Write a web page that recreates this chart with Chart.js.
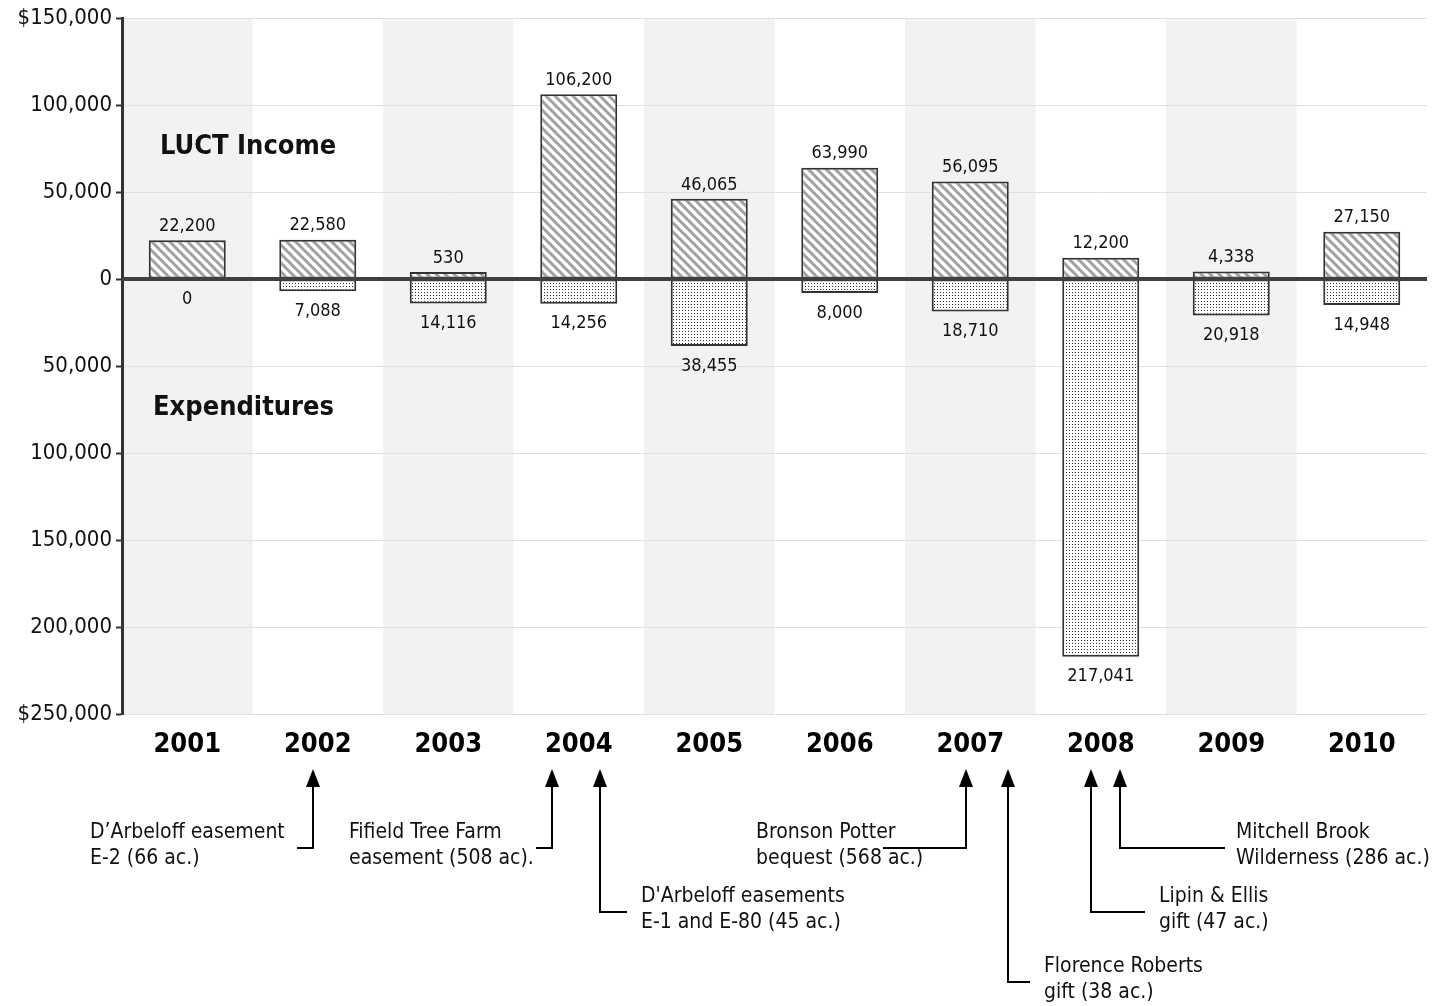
<!DOCTYPE html>
<html>
<head>
<meta charset="utf-8">
<script src="https://cdn.jsdelivr.net/npm/chart.js@4.4.1/dist/chart.umd.min.js"></script>
<style>
  html, body { margin: 0; padding: 0; background: #fff; }
  #wrap { width: 1446px; height: 1006px; position: relative; }
</style>
</head>
<body>
<div id="wrap"><canvas id="chart"></canvas></div>
<script>
const FONT = '"DejaVu Sans Condensed", "DejaVu Sans", sans-serif';

// chart values
const years = ['2001', '2002', '2003', '2004', '2005', '2006', '2007', '2008', '2009', '2010'];
const income = [22200, 22580, 530, 106200, 46065, 63990, 56095, 12200, 4338, 27150];
const expenditures = [0, -7088, -14116, -14256, -38455, -8000, -18710, -217041, -20918, -14948];

const yTickValues = [150000, 100000, 50000, 0, -50000, -100000, -150000, -200000, -250000];
const yTickLabels = ['$150,000', '100,000', '50,000', '0', '50,000', '100,000', '150,000', '200,000', '$250,000'];

// land acquisitions marked under the axis
const noteYears = ['2002', '2004', '2004', '2007', '2007', '2008', '2008'];
const noteText = [
  ['D\u2019Arbeloff easement', 'E-2 (66 ac.)'],
  ['Fifield Tree Farm', 'easement (508 ac).'],
  ["D'Arbeloff easements", 'E-1 and E-80 (45 ac.)'],
  ['Bronson Potter', 'bequest (568 ac.)'],
  ['Florence Roberts', 'gift (38 ac.)'],
  ['Lipin & Ellis', 'gift (47 ac.)'],
  ['Mitchell Brook', 'Wilderness (286 ac.)']
];

const canvas = document.getElementById('chart');
const ctx = canvas.getContext('2d');

function makeHatch() {
  const c = document.createElement('canvas');
  c.width = 9; c.height = 9;
  const g = c.getContext('2d');
  g.fillStyle = '#fff';
  g.fillRect(0, 0, 9, 9);
  g.strokeStyle = '#a0a0a0';
  g.lineWidth = 3;
  g.beginPath();
  g.moveTo(-3, -3); g.lineTo(12, 12);
  g.moveTo(-3, 6); g.lineTo(3, 12);
  g.moveTo(6, -3); g.lineTo(12, 3);
  g.stroke();
  return ctx.createPattern(c, 'repeat');
}

function makeDots() {
  const c = document.createElement('canvas');
  c.width = 3; c.height = 3;
  const g = c.getContext('2d');
  g.fillStyle = '#fff';
  g.fillRect(0, 0, 3, 3);
  g.fillStyle = '#333';
  g.fillRect(1, 1, 1, 1);
  return ctx.createPattern(c, 'repeat');
}

// alternating grey bands behind every other year
const bands = {
  id: 'bands',
  beforeDraw(chart) {
    const { ctx, chartArea, scales } = chart;
    const x = scales.x;
    const step = x.getPixelForValue(1) - x.getPixelForValue(0);
    ctx.save();
    ctx.fillStyle = '#f2f2f2';
    years.forEach((y, i) => {
      if (i % 2 === 0) {
        const cx = x.getPixelForValue(i);
        ctx.fillRect(cx - step / 2, chartArea.top, step, chartArea.bottom - chartArea.top);
      }
    });
    ctx.restore();
  }
};

const valueLabels = {
  id: 'valueLabels',
  afterDatasetsDraw(chart) {
    const { ctx, chartArea, scales } = chart;
    ctx.save();
    // zero line sits on top of the bars
    const y0 = Math.round(scales.y.getPixelForValue(0));
    ctx.strokeStyle = '#404040';
    ctx.lineWidth = 4;
    ctx.beginPath();
    ctx.moveTo(chartArea.left, y0);
    ctx.lineTo(chartArea.right, y0);
    ctx.stroke();

    ctx.font = '18px ' + FONT;
    ctx.fillStyle = '#111';
    ctx.textAlign = 'center';
    ctx.textBaseline = 'middle';
    chart.getDatasetMeta(0).data.forEach((el, i) => {
      ctx.fillText(income[i].toLocaleString('en-US'), el.x, el.y - 14);
    });
    chart.getDatasetMeta(1).data.forEach((el, i) => {
      const yb = scales.y.getPixelForValue(expenditures[i]);
      ctx.fillText(Math.abs(expenditures[i]).toLocaleString('en-US'), el.x, yb + 20);
    });

    ctx.font = 'bold 27px ' + FONT;
    ctx.textAlign = 'left';
    ctx.fillText('LUCT Income', 160, 147);
    ctx.fillText('Expenditures', 153, 408);
    ctx.restore();
  }
};

// arrow offset from year centre, elbow y, end of leader, text left (both relative to arrow)
const noteLayout = [
  { dx: -5, ey: 848, lx: -16, tx: -223 },
  { dx: -27, ey: 848, lx: -16, tx: -203 },
  { dx: 21, ey: 912, lx: 27, tx: 41 },
  { dx: -4, ey: 848, lx: -83, tx: -210 },
  { dx: 38, ey: 982, lx: 22, tx: 36 },
  { dx: -10, ey: 912, lx: 54, tx: 68 },
  { dx: 19, ey: 848, lx: 105, tx: 116 }
];

const notes = {
  id: 'notes',
  afterDraw(chart) {
    const { ctx, scales } = chart;
    ctx.save();
    ctx.strokeStyle = '#000';
    ctx.fillStyle = '#000';
    ctx.lineWidth = 2;
    ctx.font = '21px ' + FONT;
    ctx.textBaseline = 'middle';
    ctx.textAlign = 'left';
    noteYears.forEach((yr, i) => {
      const L = noteLayout[i];
      const ax = Math.round(scales.x.getPixelForValue(years.indexOf(yr)) + L.dx);
      const tip = 769;
      ctx.beginPath();
      ctx.moveTo(ax, tip + 14);
      ctx.lineTo(ax, L.ey);
      ctx.lineTo(ax + L.lx, L.ey);
      ctx.stroke();
      ctx.beginPath();
      ctx.moveTo(ax, tip);
      ctx.lineTo(ax - 7, tip + 18);
      ctx.lineTo(ax + 7, tip + 18);
      ctx.closePath();
      ctx.fill();
      ctx.fillStyle = '#111';
      ctx.fillText(noteText[i][0], ax + L.tx, L.ey - 15);
      ctx.fillText(noteText[i][1], ax + L.tx, L.ey + 11);
      ctx.fillStyle = '#000';
    });
    ctx.restore();
  }
};

new Chart(ctx, {
  type: 'bar',
  data: {
    labels: years,
    datasets: [
      {
        label: 'LUCT Income',
        data: income,
        backgroundColor: makeHatch(),
        borderColor: '#333',
        borderWidth: 2,
        borderSkipped: false,
        minBarLength: 7,
        grouped: false,
        categoryPercentage: 1,
        barPercentage: 0.59
      },
      {
        label: 'Expenditures',
        data: expenditures,
        backgroundColor: makeDots(),
        borderColor: '#333',
        borderWidth: 2,
        borderSkipped: false,
        grouped: false,
        categoryPercentage: 1,
        barPercentage: 0.59
      }
    ]
  },
  options: {
    responsive: true,
    maintainAspectRatio: false,
    animation: false,
    layout: { padding: { left: 0, right: 19, top: 18, bottom: 232 } },
    plugins: {
      legend: { display: false },
      tooltip: { enabled: false }
    },
    scales: {
      x: {
        grid: { display: false, drawTicks: false },
        border: { display: false },
        ticks: {
          padding: 15,
          color: '#000',
          font: { family: FONT, size: 27, weight: 'bold' }
        },
        afterFit(scale) { scale.height = 60; }
      },
      y: {
        min: -250000,
        max: 150000,
        afterBuildTicks(scale) {
          scale.ticks = yTickValues.map(v => ({ value: v }));
        },
        afterFit(scale) { scale.width = 122; },
        grid: {
          color: '#e0e0e0',
          lineWidth: 1,
          tickColor: '#333',
          tickLength: 6,
          tickWidth: 2
        },
        border: { display: true, color: '#333', width: 3 },
        ticks: {
          padding: 4,
          color: '#111',
          font: { family: FONT, size: 22 },
          callback: v => yTickLabels[yTickValues.indexOf(v)]
        }
      }
    }
  },
  plugins: [bands, valueLabels, notes]
});
</script>
</body>
</html>
